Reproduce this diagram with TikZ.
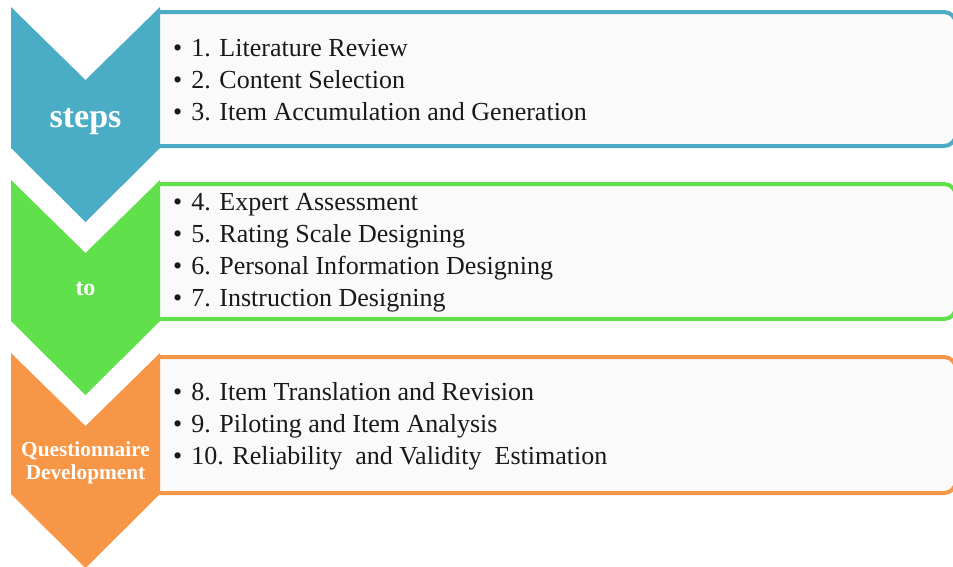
\documentclass[tikz,border=0pt]{standalone}
\usepackage{fontspec}
\setmainfont{Liberation Serif}
\usepackage{tikz}
\usetikzlibrary{calc}
\definecolor{stepblue}{HTML}{4BACC6}
\definecolor{stepgreen}{HTML}{60E04A}
\definecolor{steporange}{HTML}{F79646}
\definecolor{boxgray}{HTML}{FAFAFA}
\tikzstyle{itemtext}=[anchor=west, inner sep=0pt, align=left, text=black!90, font=\fontsize{26}{32}\selectfont]
\tikzstyle{steplabel}=[inner sep=0pt, align=center, text=white]
\newcommand{\chevNbox}[6]{
	\fill[#1] (11,#2) -- (85.5,#2+73) -- (160,#2) -- (160,#2+141) -- (85.5,#2+215) -- (11,#2+141) -- cycle;
	\node[steplabel, font=#5] (#6) at (85.5,#2+#3) {#4};
}
\newcommand{\listNbox}[4]{
	\draw[#1, fill=boxgray, line width=4pt, rounded corners=12pt] (160,#2) -- (956,#2) -- (956,#3) -- (160,#3);
	\coordinate (#4) at (173,{(#2+#3)/2+1.5});
}

\begin{document}
\begin{tikzpicture}[x=1pt, y=-1pt]
	\useasboundingbox (0,0) rectangle (953,566);
	\clip (0,0) rectangle (953,566);
	\listNbox{stepblue}{12}{146}{boxA}
	\listNbox{stepgreen}{184}{319}{boxB}
	\listNbox{steporange}{357}{493}{boxC}
	\chevNbox{stepblue}{7}{115}{\textbf{steps}}{\fontsize{34}{40}\selectfont}{labA}
	\chevNbox{stepgreen}{180}{109}{\textbf{to}}{\fontsize{24}{28}\selectfont}{labB}
	\chevNbox{steporange}{353}{110}{\textbf{Questionnaire}\\\textbf{Development}}{\fontsize{21.3}{23}\selectfont}{labC}
	\node[itemtext] (listA) at (boxA) {\textbullet\hspace{9pt}1. Literature Review\\ \textbullet\hspace{9pt}2. Content Selection\\ \textbullet\hspace{9pt}3. Item Accumulation and Generation};
	\node[itemtext] (listB) at (boxB) {\textbullet\hspace{9pt}4. Expert Assessment\\ \textbullet\hspace{9pt}5. Rating Scale Designing\\ \textbullet\hspace{9pt}6. Personal Information Designing\\ \textbullet\hspace{9pt}7. Instruction Designing};
	\node[itemtext] (listC) at (boxC) {\textbullet\hspace{9pt}8. Item Translation and Revision\\ \textbullet\hspace{9pt}9. Piloting and Item Analysis\\ \textbullet\hspace{9pt}10. Reliability \ and Validity \ Estimation};
\end{tikzpicture}
\end{document}
